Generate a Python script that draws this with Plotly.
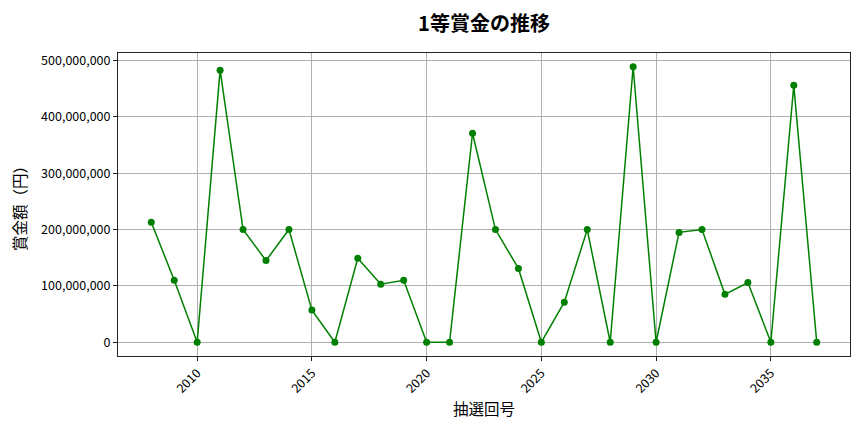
import plotly.graph_objects as go

# 抽選回号 (x) と 1等賞金 (円)
draws = list(range(2008, 2038))
prizes = [
    213000000, 110000000, 0, 483000000, 200000000, 145000000, 200000000,
    57000000, 0, 149000000, 103000000, 110000000, 0, 0, 371000000,
    200000000, 131000000, 0, 71000000, 200000000, 0, 489000000, 0,
    195000000, 200000000, 85000000, 106000000, 0, 456000000, 0,
]
x_ticks = [2010, 2015, 2020, 2025, 2030, 2035]
y_ticks = [0, 100000000, 200000000, 300000000, 400000000, 500000000]

font = "Noto Sans CJK JP"

# matplotlib-like 5% margins
xpad = (max(draws) - min(draws)) * 0.05
ypad = (max(prizes) - min(prizes)) * 0.05

fig = go.Figure(go.Scatter(
    x=draws, y=prizes, mode="lines+markers",
    line=dict(color="green", width=1.5),
    marker=dict(color="green", size=7),
))

axis_common = dict(
    showline=True, mirror=True, linecolor="#222", linewidth=1,
    ticks="outside", ticklen=4, tickcolor="#222",
    showgrid=True, gridcolor="#b0b0b0", gridwidth=0.8,
    zeroline=False, automargin=False,
    tickfont=dict(family=font, size=12.5, color="black"),
)

fig.update_layout(
    width=864, height=432,
    margin=dict(l=110, r=22, t=45, b=84),
    paper_bgcolor="white", plot_bgcolor="white",
    showlegend=False,
    title=dict(text="<b>1等賞金の推移</b>", xref="paper", x=0.5, xanchor="center",
               y=0.963, yanchor="middle", automargin=False,
               font=dict(family=font, size=20, color="black")),
    xaxis=dict(axis_common, range=[min(draws) - xpad, max(draws) + xpad],
               tickvals=x_ticks, tickangle=-45,
               title=dict(text="抽選回号", font=dict(family=font, size=15.5, color="black"), standoff=8)),
    yaxis=dict(axis_common, range=[min(prizes) - ypad, max(prizes) + ypad],
               tickvals=y_ticks, tickformat=",d",
               title=dict(text="賞金額（円）", font=dict(family=font, size=15.5, color="black"), standoff=10)),
)

fig.write_html("out.html")
